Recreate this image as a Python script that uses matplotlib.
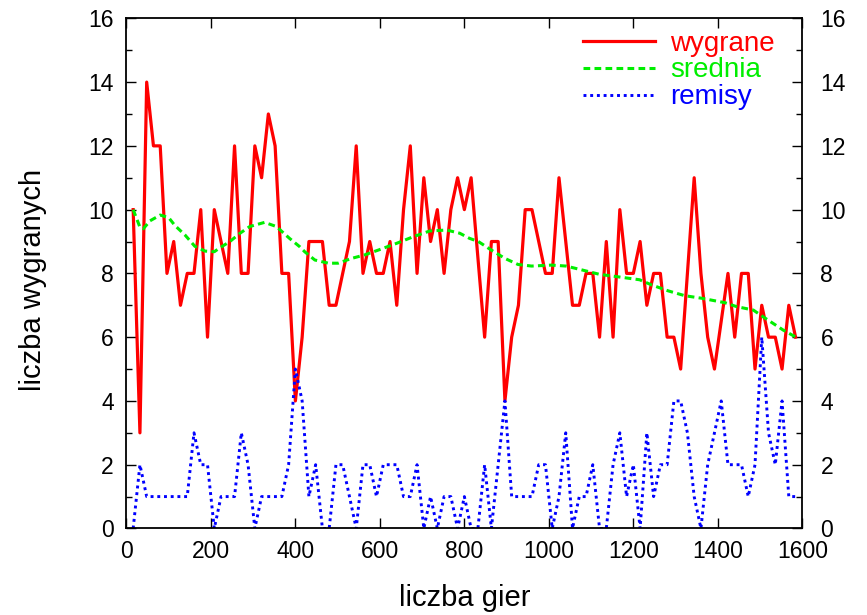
import matplotlib
matplotlib.use('Agg')
import matplotlib.pyplot as plt
import matplotlib.transforms as mtransforms
import numpy as np

plt.rcParams['font.family'] = ['Liberation Sans', 'DejaVu Sans']

# liczba gier co 16
gry = np.arange(16, 1600, 16)

wygrane = [10, 3, 14, 12, 12, 8, 9, 7, 8, 8,
           10, 6, 10, 9, 8, 12, 8, 8, 12, 11,
           13, 12, 8, 8, 4, 6, 9, 9, 9, 7,
           7, 8, 9, 12, 8, 9, 8, 8, 9, 7,
           10, 12, 8, 11, 9, 10, 8, 10, 11, 10,
           11, 8.5, 6, 9, 9, 4, 6, 7, 10, 10,
           9, 8, 8, 11, 9, 7, 7, 8, 8, 6,
           9, 6, 10, 8, 8, 9, 7, 8, 8, 6,
           6, 5, 8, 11, 8, 6, 5, 6.5, 8, 6,
           8, 8, 5, 7, 6, 6, 5, 7, 6]

remisy = [0, 2, 1, 1, 1, 1, 1, 1, 1, 3,
          2, 2, 0, 1, 1, 1, 3, 2, 0, 1,
          1, 1, 1, 2, 5, 4, 1, 2, 0, 0,
          2, 2, 1, 0, 2, 2, 1, 2, 2, 2,
          1, 1, 2, 0, 1, 0, 1, 1, 0, 1,
          0, 0, 2, 0, 2, 4, 1, 1, 1, 1,
          2, 2, 0, 1, 3, 0, 1, 1, 2, 0,
          0, 2, 3, 1, 2, 0, 3, 1, 2, 2,
          4, 4, 3, 1, 0, 2, 3, 4, 2, 2,
          2, 1, 2, 6, 3, 2, 4, 1, 1]

# srednia - gladka krzywa, odczytana w wybranych punktach
sr_x = [16, 32, 40, 56, 80, 100, 115, 139, 162, 186, 208, 221, 245, 269, 292,
        327, 355, 386, 410, 422, 446, 478, 501, 533, 564, 596, 639, 679, 718,
        758, 789, 812, 833, 864, 896, 927, 959, 1006, 1041, 1081, 1120, 1160,
        1215, 1243, 1283, 1322, 1362, 1417, 1444, 1484, 1507, 1531, 1555, 1585]
sr_y = [10.0, 9.45, 9.4, 9.65, 9.83, 9.75, 9.5, 9.2, 8.85, 8.7, 8.68, 8.8, 9.0,
        9.26, 9.47, 9.6, 9.47, 9.1, 8.84, 8.68, 8.42, 8.32, 8.32, 8.47, 8.58,
        8.73, 8.94, 9.15, 9.33, 9.36, 9.26, 9.1, 9.0, 8.73, 8.47, 8.28, 8.23,
        8.26, 8.23, 8.1, 7.97, 7.9, 7.8, 7.64, 7.45, 7.3, 7.22, 7.08, 6.96,
        6.85, 6.64, 6.43, 6.22, 6.0]

fig = plt.figure(figsize=(8.67, 6.15), dpi=100)
ax = fig.add_axes([0.1458, 0.1407, 0.7796, 0.8295])

ax.plot(gry, wygrane, color='#ff0000', lw=2.3, label='wygrane')
ax.plot(sr_x, sr_y, color='#00ee00', lw=2.2, dashes=(2.2, 1.4), label='srednia')
ax.plot(gry, remisy, color='#0000ff', lw=2.1, dashes=(1.0, 1.3), label='remisy')

ax.set_xlim(0, 1600)
ax.set_ylim(0, 16)
ax.set_xticks(np.arange(0, 1601, 200))
ax.set_yticks(np.arange(0, 17, 2))
ax.set_yticks(np.arange(0, 17, 1), minor=True)
ax.tick_params(which='both', direction='in', top=True, right=True,
               labelright=True, labelsize=16.5, width=1.0)
ax.tick_params(which='major', length=7)
ax.tick_params(which='minor', length=4)
ax.tick_params(axis='y', pad=9)
ax.tick_params(axis='x', pad=8.5)
for s in ax.spines.values():
    s.set_linewidth(1.3)

# prawe etykiety troche dalej od osi
shift = mtransforms.ScaledTranslation(4/72, 0, fig.dpi_scale_trans)
for t in ax.yaxis.get_major_ticks():
    t.label2.set_transform(t.label2.get_transform() + shift)

ax.set_xlabel('liczba gier', fontsize=21)
ax.set_ylabel('liczba wygranych', fontsize=21)
ax.xaxis.set_label_coords(0.5, -0.108)
ax.yaxis.set_label_coords(-0.117, 0.487)

leg = ax.legend(loc='upper left', bbox_to_anchor=(0.6755, 0.976), frameon=False,
                fontsize=20, handlelength=2.6, handletextpad=0.55,
                labelspacing=0.03, borderpad=0, borderaxespad=0,
                labelcolor='linecolor')

fig.savefig('out.png', dpi=100)
